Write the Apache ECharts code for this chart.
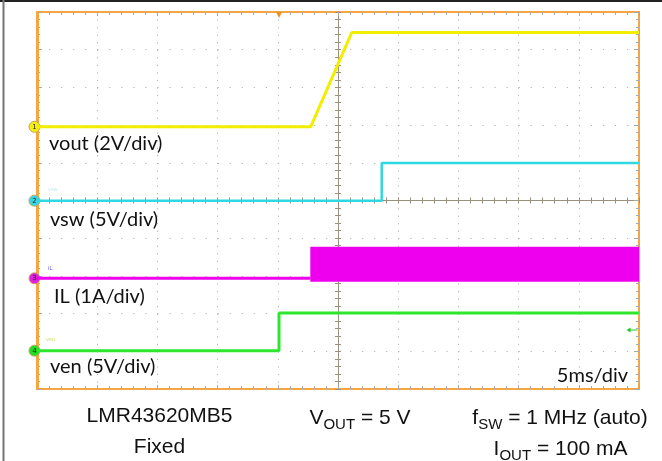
<!DOCTYPE html>
<html>
<head>
<meta charset="utf-8">
<script src="https://cdn.jsdelivr.net/npm/echarts@6/dist/echarts.min.js"></script>
<style>html,body{margin:0;padding:0;background:#fff;}#c{width:662px;height:461px;}</style>
</head>
<body>
<div id="c"></div>
<script>
// ---- data (time in ms, 5 ms/div, 10 divisions) ----
const timeMin = 0, timeMax = 50, timeDiv = 5;
// vout (V), 2 V/div
const voutT = [0, 22.73, 26.14, 50];
const voutV = [0, 0, 5, 5];
// vsw (V), 5 V/div
const vswT = [0, 28.63, 28.63, 50];
const vswV = [0, 0, 5, 5];
// IL (A), 1 A/div : idle baseline then switching band
const ilT = [0, 22.7];
const ilA = [0, 0];
const ilBandT = [22.7, 50];
const ilBandLow = [-0.09, -0.09];
const ilBandHigh = [0.84, 0.84];
// ven (V), 5 V/div
const venT = [0, 20.1, 20.1, 50];
const venV = [0, 0, 5, 5];
// trigger
const trigT = 20.1;
const trigLevelV = 2.75;

// channel scale (units per division, zero position in divisions from bottom)
const chVout = { perDiv: 2, zeroDiv: 6.955 };
const chVsw = { perDiv: 5, zeroDiv: 4.995 };
const chIl = { perDiv: 1, zeroDiv: 2.936 };
const chVen = { perDiv: 5, zeroDiv: 1.016 };

const pairs = (xs, ys) => xs.map((x, i) => [x, ys[i]]);
const chAxis = ch => ({ type: 'value', show: false, min: -ch.zeroDiv * ch.perDiv, max: (10 - ch.zeroDiv) * ch.perDiv,
  axisLine: { onZero: false }, splitLine: { show: false } });

const tickCol = '#a8a8a8';
const crossCol = '#9b8f7e';
const orange = '#f5a640';

function borderX(pos, show) {
  return { type: 'value', position: pos, min: timeMin, max: timeMax, interval: timeDiv,
    axisLine: { show: false, onZero: false }, axisLabel: { show: false },
    axisTick: { show: true, inside: true, length: 4, lineStyle: { color: tickCol } },
    minorTick: { show: true, splitNumber: 5, length: 3, lineStyle: { color: tickCol } },
    splitLine: { show: show, lineStyle: { color: '#b4b4b4', width: 1, type: [1.2, 6.34] } } };
}
function borderY(pos, show) {
  return { type: 'value', position: pos, min: 0, max: 10, interval: 1,
    axisLine: { show: false, onZero: false }, axisLabel: { show: false },
    axisTick: { show: true, inside: true, length: 5, lineStyle: { color: tickCol } },
    minorTick: { show: true, splitNumber: 5, length: 3, lineStyle: { color: tickCol } },
    splitLine: { show: show, lineStyle: { color: '#b4b4b4', width: 1, type: [1.2, 10.84] } } };
}
function centerX(inside) {
  return { type: 'value', position: 'bottom', offset: -188.5, min: timeMin, max: timeMax, interval: timeDiv,
    axisLine: { show: true, onZero: false, lineStyle: { color: crossCol, width: 1 } }, axisLabel: { show: false },
    axisTick: { show: true, inside: inside, length: 3, lineStyle: { color: crossCol } },
    minorTick: { show: true, splitNumber: 5, length: 3, lineStyle: { color: crossCol } },
    splitLine: { show: false } };
}
function centerY(inside) {
  return { type: 'value', position: 'left', offset: -301, min: 0, max: 10, interval: 1,
    axisLine: { show: true, onZero: false, lineStyle: { color: crossCol, width: 1 } }, axisLabel: { show: false },
    axisTick: { show: true, inside: inside, length: 3, lineStyle: { color: crossCol } },
    minorTick: { show: true, splitNumber: 5, length: 3, lineStyle: { color: crossCol } },
    splitLine: { show: false } };
}

function chMarker(num, color) {
  return { silent: true, symbol: 'circle', symbolSize: 11, symbolOffset: [-2.5, 0],
    itemStyle: { color: color, borderColor: '#c9a25a', borderWidth: 1 },
    label: { show: true, formatter: num, color: '#222', fontSize: 7, fontFamily: 'DejaVu Sans', position: 'inside' },
    data: [{ coord: [timeMin, 0] }] };
}

const chart = echarts.init(document.getElementById('c'), null, { renderer: 'canvas' });
const lab = { fontFamily: 'Lato', fontSize: 20, fill: '#111' };
const capF = 'Liberation Sans';

chart.setOption({
  animation: false,
  backgroundColor: '#fff',
  grid: { left: 37, top: 12, width: 602, height: 377, show: true, borderColor: orange, borderWidth: 2, backgroundColor: '#fff' },
  xAxis: [borderX('bottom', true), borderX('top', false), centerX(false), centerX(true)],
  yAxis: [borderY('left', true), borderY('right', false), centerY(false), centerY(true),
    chAxis(chVout), chAxis(chVsw), chAxis(chIl), chAxis(chVen)],
  series: [
    { name: 'vout', type: 'line', xAxisIndex: 0, yAxisIndex: 4, data: pairs(voutT, voutV), symbol: 'none',
      lineStyle: { color: '#f2ee00', width: 3 }, z: 5, markPoint: chMarker('1', '#f4ef10') },
    { name: 'vsw', type: 'line', xAxisIndex: 0, yAxisIndex: 5, data: pairs(vswT, vswV), symbol: 'none',
      lineStyle: { color: '#2fd8e2', width: 2.5 }, z: 5, markPoint: chMarker('2', '#3ad6e0') },
    { name: 'IL', type: 'line', xAxisIndex: 0, yAxisIndex: 6, data: pairs(ilT, ilA), symbol: 'none',
      lineStyle: { color: '#ee00ee', width: 3 }, z: 5, markPoint: chMarker('3', '#e020e0') },
    { name: 'ILsw', type: 'custom', xAxisIndex: 0, yAxisIndex: 6, z: 5,
      data: ilBandT.slice(0, -1).map((t, i) => [t, ilBandT[i + 1], ilBandLow[i], ilBandHigh[i]]),
      encode: { x: [0, 1], y: [2, 3] },
      renderItem: (params, api) => {
        const p0 = api.coord([api.value(0), api.value(3)]);
        const p1 = api.coord([api.value(1), api.value(2)]);
        return { type: 'rect', shape: { x: p0[0], y: p0[1], width: p1[0] - p0[0], height: p1[1] - p0[1] },
          style: { fill: '#ee00ee' } };
      } },
    { name: 'ven', type: 'line', xAxisIndex: 0, yAxisIndex: 7, data: pairs(venT, venV), symbol: 'none',
      lineStyle: { color: '#2de62d', width: 3 }, z: 5,
      markPoint: { silent: true, data: [
        { coord: [timeMin, 0], symbol: 'circle', symbolSize: 11, symbolOffset: [-2.5, 0],
          itemStyle: { color: '#22dd22', borderColor: '#c9a25a', borderWidth: 1 },
          label: { show: true, formatter: '4', color: '#222', fontSize: 7, fontFamily: 'DejaVu Sans', position: 'inside' } },
        { coord: [trigT, (10 - chVen.zeroDiv) * chVen.perDiv], symbol: 'triangle', symbolRotate: 180, symbolSize: [6, 6], symbolOffset: [0, 3],
          itemStyle: { color: '#f09020' }, label: { show: false } },
        { coord: [timeMax, trigLevelV], symbol: 'path://M0,5 L6,0 L6,4 L16,4 L16,6 L6,6 L6,10 Z', symbolSize: [11, 5], symbolOffset: [-7, 0],
          itemStyle: { color: '#22cc22' }, label: { show: false } }
      ] } }
  ],
  graphic: [
    { type: 'line', shape: { x1: 0, y1: 1, x2: 662, y2: 1 }, style: { stroke: '#222', lineWidth: 2 } },
    { type: 'line', shape: { x1: 3.5, y1: 0, x2: 3.5, y2: 461 }, style: { stroke: '#777', lineWidth: 2 } },
    { type: 'line', shape: { x1: 37.5, y1: 12, x2: 37.5, y2: 389 }, style: { stroke: orange, lineWidth: 3 }, z: 4 },
    { type: 'text', x: 49, y: 144, style: Object.assign({ text: 'vout (2V/div)', textVerticalAlign: 'middle' }, lab), z: 10 },
    { type: 'text', x: 50, y: 220, style: Object.assign({ text: 'vsw (5V/div)', textVerticalAlign: 'middle' }, lab), z: 10 },
    { type: 'text', x: 54, y: 297, style: Object.assign({ text: 'IL (1A/div)', textVerticalAlign: 'middle' }, lab), z: 10 },
    { type: 'text', x: 50, y: 367, style: Object.assign({ text: 'ven (5V/div)', textVerticalAlign: 'middle' }, lab), z: 10 },
    { type: 'text', x: 628, y: 376, style: Object.assign({ text: '5ms/div', textAlign: 'right', textVerticalAlign: 'middle' }, lab), z: 10 },
    { type: 'text', x: 48, y: 190, style: { text: 'vsw', fontSize: 5, fontFamily: 'DejaVu Sans', fill: '#c6e4ea', textVerticalAlign: 'middle' }, z: 10 },
    { type: 'text', x: 48, y: 268.5, style: { text: 'IL', fontSize: 5, fontFamily: 'DejaVu Sans', fill: '#5a5af0', textVerticalAlign: 'middle' }, z: 10 },
    { type: 'text', x: 46, y: 339.5, style: { text: 'ven', fontSize: 5, fontFamily: 'DejaVu Sans', fill: '#c4e060', textVerticalAlign: 'middle' }, z: 10 },
    { type: 'text', x: 159.5, y: 416, style: { text: 'LMR43620MB5', font: '21px "Liberation Sans"', fill: '#111', textAlign: 'center', textVerticalAlign: 'middle' } },
    { type: 'text', x: 159.5, y: 447, style: { text: 'Fixed', font: '21px "Liberation Sans"', fill: '#111', textAlign: 'center', textVerticalAlign: 'middle' } },
    { type: 'text', x: 360, y: 418, style: { text: '{a|V}{s|OUT}{a| = 5 V}', textAlign: 'center', textVerticalAlign: 'middle', fill: '#111',
      rich: { a: { fontSize: 21, fontFamily: capF, lineHeight: 28, fill: '#111', color: '#111' }, s: { fontSize: 15, fontFamily: capF, lineHeight: 15, verticalAlign: 'bottom', color: '#111', fill: '#111' } } } },
    { type: 'text', x: 560, y: 418, style: { text: '{a|f}{s|SW}{a| = 1 MHz (auto)}', textAlign: 'center', textVerticalAlign: 'middle', fill: '#111',
      rich: { a: { fontSize: 21, fontFamily: capF, lineHeight: 28, color: '#111', fill: '#111' }, s: { fontSize: 15, fontFamily: capF, lineHeight: 15, verticalAlign: 'bottom', color: '#111', fill: '#111' } } } },
    { type: 'text', x: 560.5, y: 449, style: { text: '{a|I}{s|OUT}{a| = 100 mA}', textAlign: 'center', textVerticalAlign: 'middle', fill: '#111',
      rich: { a: { fontSize: 21, fontFamily: capF, lineHeight: 28, color: '#111', fill: '#111' }, s: { fontSize: 15, fontFamily: capF, lineHeight: 15, verticalAlign: 'bottom', color: '#111', fill: '#111' } } } }
  ]
});
</script>
</body>
</html>
